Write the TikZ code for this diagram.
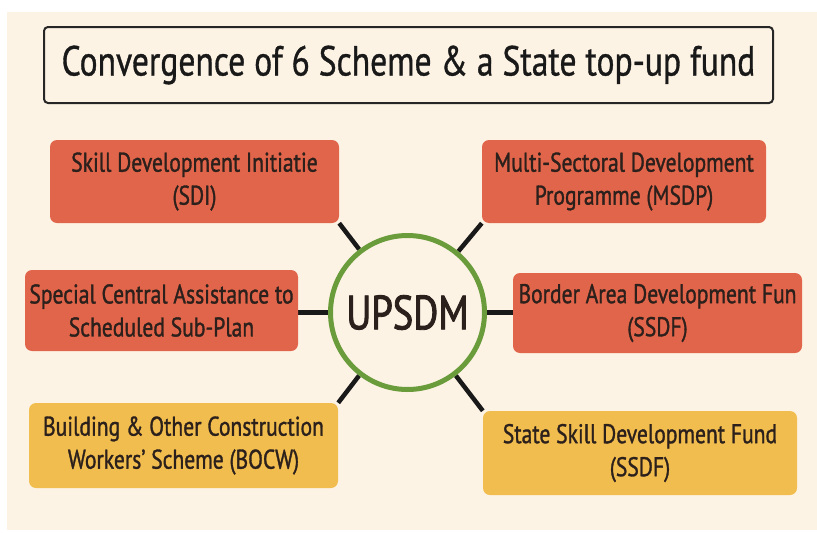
\documentclass[tikz,border=0pt]{standalone}
\usepackage{fontspec}
\setmainfont{PT Sans}[FakeStretch=0.8]
\newfontfamily\schemefont{PT Sans}[FakeStretch=0.8, FakeBold=1.2]
\newfontfamily\hubfont{PT Sans}[FakeStretch=0.8, FakeBold=1.8]
\newfontfamily\titlefont{PT Sans}[FakeStretch=0.8, FakeBold=0.8]
\usetikzlibrary{backgrounds}
\definecolor{paper}{HTML}{FDF3E4}
\definecolor{schemered}{HTML}{E1654A}
\definecolor{schemeyellow}{HTML}{F2BD4F}
\definecolor{hubgreen}{HTML}{6A9C3C}
\definecolor{ink}{HTML}{2B201B}
\tikzset{
  scheme/.style={shape=rectangle, rounded corners=7pt, draw=none, align=center, text=ink,
    inner sep=0pt, font=\schemefont\fontsize{27}{33}\selectfont},
  redbox/.style={scheme, fill=schemered},
  yellowbox/.style={scheme, fill=schemeyellow},
  link/.style={black!90, line width=4.5pt}
}
\begin{document}
\begin{tikzpicture}[x=1pt,y=-1pt]
\useasboundingbox (0,0) rectangle (817,533);

\node[draw=black!85, line width=2pt, rounded corners=4pt, fill=paper, minimum width=729pt, minimum height=76pt,
  font=\titlefont\fontsize{42}{50}\selectfont, text=black!90] (title) at (408.5,65) {Convergence of 6 Scheme \& a State top-up fund};

\node[redbox, minimum width=289pt, minimum height=83pt] (sdi) at (194.5,181.5) {Skill Development Initiatie\\(SDI)};
\node[redbox, minimum width=284pt, minimum height=83pt] (msdp) at (624,181.5) {Multi-Sectoral Development\\Programme (MSDP)};
\node[redbox, minimum width=273pt, minimum height=81pt] (scsp) at (161.5,310.5) {Special Central Assistance to\\Scheduled Sub-Plan};
\node[redbox, minimum width=289pt, minimum height=80pt] (badf) at (657.5,313) {Border Area Development Fun\\(SSDF)};
\node[yellowbox, minimum width=309pt, minimum height=85pt] (bocw) at (183.5,445.5) {Building \& Other Construction\\Workers’ Scheme (BOCW)};
\node[yellowbox, minimum width=314pt, minimum height=84pt] (ssdf) at (640,453) {State Skill Development Fund\\(SSDF)};

\node[circle, draw=hubgreen, line width=5pt, fill=paper, minimum size=154pt, inner sep=0pt, text=ink,
  font=\hubfont\fontsize{48}{58}\selectfont] (hub) at (407.5,312.5) {UPSDM};

\begin{scope}[on background layer]
\fill[paper] (7,12) rectangle (817,530);
\draw[link] (sdi.south east) -- (hub);
\draw[link] (msdp.south west) -- (hub);
\draw[link] (scsp.east |- hub) -- (hub);
\draw[link] (badf.west |- hub) -- (hub);
\draw[link] (bocw.north east) -- (hub);
\draw[link] (ssdf.north west) -- (hub);
\end{scope}

\end{tikzpicture}
\end{document}
